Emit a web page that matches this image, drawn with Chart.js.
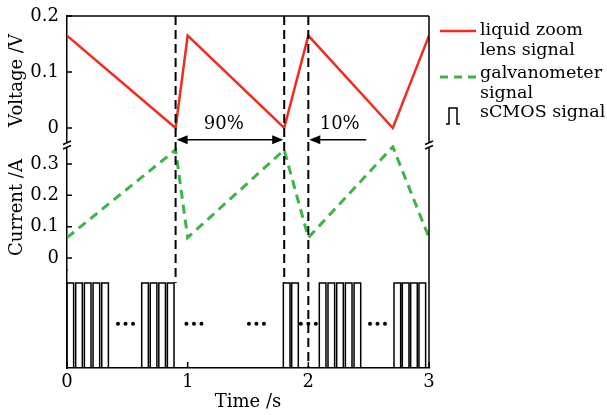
<!DOCTYPE html>
<html>
<head>
<meta charset="utf-8">
<script src="https://cdn.jsdelivr.net/npm/chart.js@4.4.0/dist/chart.umd.min.js"></script>
<style>
  html, body { margin: 0; padding: 0; background: #fff; }
  #wrap { width: 607px; height: 415px; position: relative; }
</style>
</head>
<body>
<div id="wrap"><canvas id="timing-chart"></canvas></div>
<script>
// liquid zoom lens drive voltage (V), corner points of the sawtooth
const voltageTimes = [0, 0.9, 1.0, 1.8, 2.0, 2.7, 3.0];
const voltageValues = [0.165, 0, 0.165, 0, 0.165, 0, 0.165];

// galvanometer current (A)
const currentTimes = [0, 0.9, 1.0, 1.8, 2.0, 2.7, 3.0];
const currentValues = [0.065, 0.345, 0.065, 0.345, 0.065, 0.355, 0.065];

// sCMOS trigger pulses, rising edge times (s)
const pulseStarts = [
  0.0, 0.072, 0.144, 0.216, 0.288,
  0.619, 0.690, 0.761, 0.832,
  1.793, 1.862,
  2.091, 2.163, 2.235, 2.307, 2.379,
  2.710, 2.779, 2.848, 2.917
];
const pulseWidth = 0.055;

// "..." marks between pulse groups
const ellipsisTimes = [0.485, 1.052, 1.57, 2.0, 2.573];

// dashed sync lines, and whether each one runs down to the time axis
const syncTimes = [0.9, 1.8, 2.0];
const syncToBase = [false, false, true];

const timeTicks = [0, 1, 2, 3];
const voltageTicks = [0, 0.1, 0.2];
const currentTicks = [0, 0.1, 0.2, 0.3];

const seriesLabels = ["liquid zoom lens signal", "galvanometer signal", "sCMOS signal"];
const legendLines = [["liquid zoom", "lens signal"], ["galvanometer", "signal"], ["sCMOS signal"]];

const FONT = "'DejaVu Serif', serif";
Chart.defaults.font.family = FONT;
Chart.defaults.font.size = 18;
Chart.defaults.color = "#000";

const toPoints = (xs, ys) => xs.map((x, i) => ({ x: x, y: ys[i] }));

const pulsePoints = [];
pulseStarts.forEach(s => {
  pulsePoints.push({ x: s, y: 0 }, { x: s, y: 1 }, { x: s + pulseWidth, y: 1 }, { x: s + pulseWidth, y: 0 });
});

function noPad(scale) {
  scale.paddingTop = 0;
  scale.paddingBottom = 0;
  scale.paddingLeft = 0;
  scale.paddingRight = 0;
}

function yAxis(min, max, weight, ticks, title) {
  return {
    type: "linear",
    position: "left",
    stack: "left",
    stackWeight: weight,
    min: min,
    max: max,
    grid: { display: false, drawTicks: false },
    border: { display: true, color: "#000", width: 1.5 },
    ticks: { display: ticks.length > 0, padding: 8, autoSkip: false },
    afterBuildTicks: s => { s.ticks = ticks.map(v => ({ value: v })); },
    afterFit: s => { s.width = 67; noPad(s); },
    title: { display: !!title, text: title || "", padding: { top: 7, bottom: 0 } },
  };
}

// frame, breaks, inner ticks, sync lines, arrows, dots and legend
const decorPlugin = {
  id: "decor",
  afterDatasetsDraw(chart) {
    const { ctx, chartArea: a, scales } = chart;
    const xs = scales.x, yV = scales.yV, yI = scales.yI, yS = scales.yS;
    ctx.save();
    ctx.strokeStyle = "#000";
    ctx.fillStyle = "#000";
    ctx.lineWidth = 1.5;

    // top of voltage panel and right axis
    ctx.beginPath();
    ctx.moveTo(a.left, a.top);
    ctx.lineTo(a.right, a.top);
    ctx.moveTo(a.right, a.top);
    ctx.lineTo(a.right, a.bottom);
    ctx.stroke();

    // axis breaks between voltage and current panels
    const yb = yV.bottom;
    [a.left, a.right].forEach(x => {
      ctx.fillStyle = "#fff";
      ctx.fillRect(x - 4, yb - 3, 8, 6);
      ctx.beginPath();
      ctx.moveTo(x - 4, yb - 0.5);
      ctx.lineTo(x + 4, yb - 4);
      ctx.moveTo(x - 4, yb + 4);
      ctx.lineTo(x + 4, yb + 0.5);
      ctx.stroke();
    });
    ctx.fillStyle = "#000";

    // inward ticks
    ctx.beginPath();
    voltageTicks.forEach(v => {
      const y = yV.getPixelForValue(v);
      ctx.moveTo(a.left, y);
      ctx.lineTo(a.left + 5, y);
    });
    currentTicks.forEach(v => {
      const y = yI.getPixelForValue(v);
      ctx.moveTo(a.left, y);
      ctx.lineTo(a.left + 5, y);
    });
    timeTicks.forEach(t => {
      const x = xs.getPixelForValue(t);
      ctx.moveTo(x, a.bottom);
      ctx.lineTo(x, a.bottom - 6);
    });
    ctx.stroke();

    // dashed sync lines
    ctx.lineWidth = 2;
    ctx.setLineDash([9, 5]);
    syncTimes.forEach((t, i) => {
      const x = xs.getPixelForValue(t);
      ctx.beginPath();
      ctx.moveTo(x, a.top);
      ctx.lineTo(x, syncToBase[i] ? a.bottom : yS.getPixelForValue(1));
      ctx.stroke();
    });
    ctx.setLineDash([]);

    // duty cycle arrows
    const ya = yV.getPixelForValue(-0.021);
    const head = (x, dir) => {
      ctx.beginPath();
      ctx.moveTo(x, ya);
      ctx.lineTo(x + dir * 11, ya - 4.5);
      ctx.lineTo(x + dir * 11, ya + 4.5);
      ctx.closePath();
      ctx.fill();
    };
    const x09 = xs.getPixelForValue(0.9), x18 = xs.getPixelForValue(1.8);
    const x20 = xs.getPixelForValue(2.0), x248 = xs.getPixelForValue(2.48);
    ctx.lineWidth = 1.5;
    ctx.beginPath();
    ctx.moveTo(x09 + 4, ya);
    ctx.lineTo(x18 - 4, ya);
    ctx.moveTo(x20 + 4, ya);
    ctx.lineTo(x248, ya);
    ctx.stroke();
    head(x09 + 1, 1);
    head(x18 - 1, -1);
    head(x20 + 1, 1);

    ctx.font = "18px " + FONT;
    ctx.textAlign = "center";
    ctx.textBaseline = "middle";
    ctx.fillText("90%", xs.getPixelForValue(1.3), yV.getPixelForValue(0.006));
    ctx.fillText("10%", xs.getPixelForValue(2.26), yV.getPixelForValue(0.006));

    // ellipsis dots
    const yd = yS.getPixelForValue(0.52);
    ellipsisTimes.forEach(t => {
      const x = xs.getPixelForValue(t);
      [-7.5, 0, 7.5].forEach(dx => {
        ctx.beginPath();
        ctx.arc(x + dx, yd, 2, 0, Math.PI * 2);
        ctx.fill();
      });
    });

    // legend
    const lx = a.right + 11, tx = a.right + 51;
    ctx.font = "17.5px " + FONT;
    ctx.textAlign = "left";
    ctx.lineWidth = 2.5;
    ctx.strokeStyle = chart.data.datasets[0].borderColor;
    ctx.beginPath();
    ctx.moveTo(lx, 31);
    ctx.lineTo(lx + 36, 31);
    ctx.stroke();
    ctx.strokeStyle = chart.data.datasets[1].borderColor;
    ctx.lineWidth = 3;
    ctx.setLineDash([8, 6]);
    ctx.beginPath();
    ctx.moveTo(lx, 77);
    ctx.lineTo(lx + 36, 77);
    ctx.stroke();
    ctx.setLineDash([]);
    ctx.strokeStyle = "#000";
    ctx.lineWidth = 1.5;
    ctx.beginPath();
    ctx.moveTo(lx + 6, 124);
    ctx.lineTo(lx + 9, 124);
    ctx.lineTo(lx + 9, 108);
    ctx.lineTo(lx + 17, 108);
    ctx.lineTo(lx + 17, 124);
    ctx.lineTo(lx + 20, 124);
    ctx.stroke();

    const rows = [[30, 50], [73, 93], [112]];
    legendLines.forEach((lines, i) => {
      lines.forEach((txt, j) => ctx.fillText(txt, tx, rows[i][j]));
    });
    ctx.restore();
  }
};

const ctx = document.getElementById("timing-chart").getContext("2d");
window.timingChart = new Chart(ctx, {
  type: "line",
  data: {
    datasets: [
      {
        label: seriesLabels[0],
        data: toPoints(voltageTimes, voltageValues),
        yAxisID: "yV",
        borderColor: "#f42a1e",
        borderWidth: 2.5,
        pointRadius: 0,
        tension: 0,
      },
      {
        label: seriesLabels[1],
        data: toPoints(currentTimes, currentValues),
        yAxisID: "yI",
        borderColor: "#3bb54a",
        borderWidth: 3,
        borderDash: [9, 6],
        pointRadius: 0,
        tension: 0,
      },
      {
        label: seriesLabels[2],
        data: pulsePoints,
        yAxisID: "yS",
        borderColor: "#000",
        borderWidth: 1.5,
        pointRadius: 0,
        tension: 0,
      },
    ],
  },
  options: {
    responsive: true,
    maintainAspectRatio: false,
    animation: false,
    layout: { padding: { top: 16, right: 178, left: 0, bottom: 0 } },
    plugins: { legend: { display: false }, tooltip: { enabled: false } },
    scales: {
      x: {
        type: "linear",
        min: 0,
        max: 3,
        grid: { display: false, drawTicks: false },
        border: { display: true, color: "#000", width: 1.5 },
        ticks: { padding: 4, autoSkip: false },
        afterBuildTicks: s => { s.ticks = timeTicks.map(v => ({ value: v })); },
        afterFit: s => { s.height = 47; noPad(s); },
        title: { display: true, text: "Time /s", padding: { top: 0, bottom: 2 } },
      },
      // stacked left axes: defined bottom panel first
      yS: yAxis(0, 1.153, 98, [], ""),
      yI: yAxis(-0.0383, 0.3606, 125, currentTicks, "Current /A"),
      yV: yAxis(-0.0304, 0.2, 129, voltageTicks, "Voltage /V"),
    },
  },
  plugins: [decorPlugin],
});
</script>
</body>
</html>
